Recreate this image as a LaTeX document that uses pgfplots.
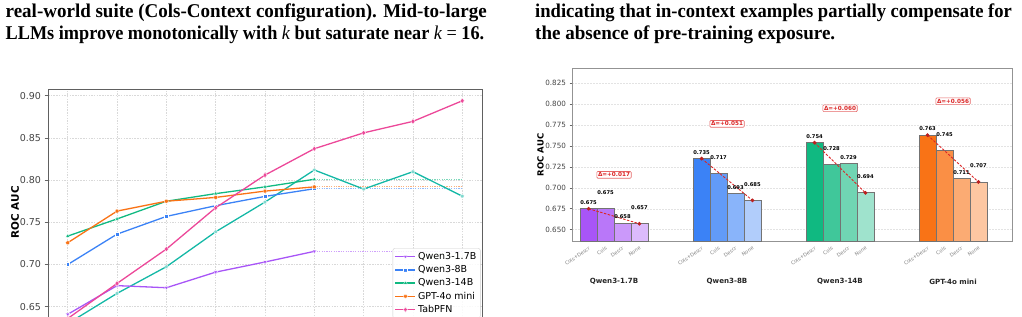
\documentclass[border=0pt]{standalone}
\usepackage{pgfplots}
\pgfplotsset{compat=1.18}
\usepackage{fontspec}
\usepackage{graphicx}
\setmainfont{Liberation Serif}
\newfontfamily\dv{DejaVu Sans}
\definecolor{cpur}{HTML}{A855F7}
\definecolor{cblu}{HTML}{3B82F6}
\definecolor{cgrn}{HTML}{10B981}
\definecolor{corg}{HTML}{F97316}
\definecolor{cpnk}{HTML}{EC4899}
\definecolor{ctel}{HTML}{14B8A6}
\definecolor{cred}{HTML}{DC2626}
\definecolor{tickc}{HTML}{444444}
\newcommand\capline[2]{\resizebox{#1}{\height}{\fontsize{19.5}{22}\selectfont\bfseries #2}}
\newcommand\kk{{\mdseries\itshape k}}
\tikzset{
  vlab/.style={font=\dv\bfseries\fontsize{5.2}{6}\selectfont, inner sep=0pt},
  dlab/.style={draw=cred!70, fill=white, rounded corners=1pt, inner sep=1.2pt, line width=0.6pt, text=cred, font=\dv\bfseries\fontsize{5.7}{6.5}\selectfont},
  glab/.style={font=\dv\bfseries\fontsize{7.1}{8}\selectfont, text=black!85},
}
\begin{document}
\begin{tikzpicture}
\useasboundingbox (0pt,0pt) rectangle (1022pt,-316pt);
\clip (0pt,0pt) rectangle (1022pt,-316pt);
% captions
\node[anchor=base west, inner sep=0] at (5.5pt,-17.3pt) {\capline{481pt}{real-world suite (Cols-Context configuration). Mid-to-large}};
\node[anchor=base west, inner sep=0] at (5.5pt,-39.6pt) {\capline{478.5pt}{LLMs improve monotonically with \kk{} but saturate near \kk{} {\mdseries=} 16.}};
\node[anchor=base west, inner sep=0] at (535pt,-17.3pt) {\capline{476.7pt}{indicating that in-context examples partially compensate for}};
\node[anchor=base west, inner sep=0] at (535pt,-39.4pt) {\capline{300pt}{the absence of pre-training exposure.}};

% ---------------- left chart ----------------
\begin{axis}[
  at={(48pt,-89.3pt)}, anchor=north west,
  scale only axis, width=434pt, height=245.7pt,
  xmin=-0.4, xmax=8.4, ymin=0.6165, ymax=0.9076,
  xtick={0,1,2,3,4,5,6,7,8}, xticklabels={},
  ytick={0.65,0.70,0.75,0.80,0.85,0.90},
  /pgf/number format/assume math mode=true,
  yticklabel style={font=\dv\fontsize{9.5}{11}\selectfont, text=tickc,
    /pgf/number format/fixed, /pgf/number format/fixed zerofill, /pgf/number format/precision=2},
  tick align=outside, ytick pos=left, xtick pos=bottom,
  major tick length=3.5pt, tick style={gray!80!black, line width=0.6pt},
  grid=major, major grid style={gray!30, dash pattern=on 1.5pt off 1.2pt, line width=0.5pt},
  axis line style={gray!75!black, line width=0.9pt},
  ylabel={ROC AUC}, ylabel style={font=\dv\bfseries\fontsize{10.4}{12}\selectfont, at={(axis description cs:-0.076,0.5)}, anchor=center},
  clip mode=individual,
  every axis plot/.append style={line width=1.3pt},
  legend image code/.code={\draw[mark repeat=2,mark phase=2] plot coordinates {(0pt,0pt)(10pt,0pt)(20pt,0pt)};},
  legend style={at={(axis description cs:0.794,0.353)}, anchor=north west,
    font=\dv\fontsize{9.5}{11}\selectfont, draw=gray!40, rounded corners=2pt,
    fill=white, fill opacity=0.85, text opacity=1, row sep=0.6pt, inner sep=2pt},
  legend cell align=left,
]
% dotted extensions
\addplot[cpur!55, dash pattern=on 1.2pt off 1.2pt, line width=1.1pt, forget plot] coordinates {(5,0.7156)(8,0.7156)};
\addplot[cblu!55, dash pattern=on 1.2pt off 1.2pt, line width=1.1pt, forget plot] coordinates {(5,0.7898)(8,0.7898)};
\addplot[cgrn!55, dash pattern=on 1.2pt off 1.2pt, line width=1.1pt, forget plot] coordinates {(5,0.801)(8,0.801)};
\addplot[corg!55, dash pattern=on 1.2pt off 1.2pt, line width=1.1pt, forget plot] coordinates {(5,0.792)(8,0.792)};
% teal series (legend entry below the cut)
\addplot[ctel, mark=pentagon*, mark size=2pt, mark options={fill=ctel!55, draw=white, line width=0.3pt}, forget plot]
  coordinates {(0,0.630)(1,0.6658)(2,0.6974)(3,0.7388)(4,0.774)(5,0.812)(6,0.7894)(7,0.810)(8,0.781)};
\addplot[cpur, mark=triangle*, mark size=2.3pt, mark options={rotate=180, fill=cpur, draw=white, line width=0.3pt}]
  coordinates {(0,0.641)(1,0.675)(2,0.6725)(3,0.691)(4,0.703)(5,0.7156)};
\addlegendentry{Qwen3-1.7B}
\addplot[cblu, mark=square*, mark size=1.9pt, mark options={fill=cblu, draw=white, line width=0.3pt}]
  coordinates {(0,0.700)(1,0.736)(2,0.757)(3,0.7697)(4,0.7807)(5,0.7898)};
\addlegendentry{Qwen3-8B}
\addplot[cgrn, mark=triangle*, mark size=2.3pt, mark options={fill=cgrn, draw=white, line width=0.3pt}]
  coordinates {(0,0.7337)(1,0.754)(2,0.775)(3,0.784)(4,0.792)(5,0.801)};
\addlegendentry{Qwen3-14B}
\addplot[corg, mark=*, mark size=2pt, mark options={fill=corg, draw=white, line width=0.3pt}]
  coordinates {(0,0.7258)(1,0.7633)(2,0.775)(3,0.7795)(4,0.787)(5,0.792)};
\addlegendentry{GPT-4o mini}
\addplot[cpnk, mark=diamond*, mark size=2.7pt, mark options={fill=cpnk, draw=white, line width=0.3pt}]
  coordinates {(0,0.636)(1,0.6776)(2,0.7183)(3,0.7673)(4,0.806)(5,0.8372)(6,0.856)(7,0.8696)(8,0.894)};
\addlegendentry{TabPFN}
\end{axis}

% ---------------- right chart ----------------
\begin{axis}[
  at={(572pt,-68.3pt)}, anchor=north west,
  scale only axis, width=440pt, height=173pt,
  xmin=-0.3717, xmax=3.522, ymin=0.636, ymax=0.843,
  xtick={-0.225,-0.075,0.075,0.225, 0.775,0.925,1.075,1.225, 1.775,1.925,2.075,2.225, 2.775,2.925,3.075,3.225},
  xticklabels={Cols+Descr,Cols,Descr,None,Cols+Descr,Cols,Descr,None,Cols+Descr,Cols,Descr,None,Cols+Descr,Cols,Descr,None},
  xticklabel style={font=\dv\fontsize{5}{6}\selectfont, text=gray, rotate=35, anchor=north east, inner sep=1.5pt},
  xtick style={draw=none},
  ytick={0.650,0.675,0.700,0.725,0.750,0.775,0.800,0.825},
  /pgf/number format/assume math mode=true,
  yticklabel style={font=\dv\fontsize{7.2}{8}\selectfont, text=tickc,
    /pgf/number format/fixed, /pgf/number format/fixed zerofill, /pgf/number format/precision=3},
  tick align=outside, ytick pos=left,
  major tick length=2.5pt, ytick style={gray!80!black, line width=0.5pt},
  ymajorgrids, major grid style={gray!22, dash pattern=on 2pt off 1pt, line width=0.4pt},
  axis line style={gray!85, line width=0.8pt},
  ylabel={ROC AUC}, ylabel style={font=\dv\bfseries\fontsize{8.5}{10}\selectfont, at={(axis description cs:-0.0716,0.5)}, anchor=center},
  clip mode=individual,
  bar width=17pt,
  every axis plot/.append style={draw=black!55, line width=0.7pt},
]
% Qwen3-1.7B
\addplot[ybar, fill=cpur] coordinates {(-0.225,0.675)};
\addplot[ybar, fill=cpur!80!white] coordinates {(-0.075,0.675)};
\addplot[ybar, fill=cpur!60!white] coordinates {(0.075,0.658)};
\addplot[ybar, fill=cpur!40!white] coordinates {(0.225,0.657)};
% Qwen3-8B
\addplot[ybar, fill=cblu] coordinates {(0.775,0.735)};
\addplot[ybar, fill=cblu!80!white] coordinates {(0.925,0.717)};
\addplot[ybar, fill=cblu!60!white] coordinates {(1.075,0.693)};
\addplot[ybar, fill=cblu!40!white] coordinates {(1.225,0.685)};
% Qwen3-14B
\addplot[ybar, fill=cgrn] coordinates {(1.775,0.754)};
\addplot[ybar, fill=cgrn!80!white] coordinates {(1.925,0.728)};
\addplot[ybar, fill=cgrn!60!white] coordinates {(2.075,0.729)};
\addplot[ybar, fill=cgrn!40!white] coordinates {(2.225,0.694)};
% GPT-4o mini
\addplot[ybar, fill=corg] coordinates {(2.775,0.763)};
\addplot[ybar, fill=corg!80!white] coordinates {(2.925,0.745)};
\addplot[ybar, fill=corg!60!white] coordinates {(3.075,0.711)};
\addplot[ybar, fill=corg!40!white] coordinates {(3.225,0.707)};
% delta lines
\addplot[draw=cred, dash pattern=on 2.5pt off 1.5pt, line width=0.9pt, mark=*, mark size=1.4pt, mark options={solid, fill=cred!85!black, draw=cred!85!black}] coordinates {(-0.225,0.675)(0.225,0.657)};
\addplot[draw=cred, dash pattern=on 2.5pt off 1.5pt, line width=0.9pt, mark=*, mark size=1.4pt, mark options={solid, fill=cred!85!black, draw=cred!85!black}] coordinates {(0.775,0.735)(1.225,0.685)};
\addplot[draw=cred, dash pattern=on 2.5pt off 1.5pt, line width=0.9pt, mark=*, mark size=1.4pt, mark options={solid, fill=cred!85!black, draw=cred!85!black}] coordinates {(1.775,0.754)(2.225,0.694)};
\addplot[draw=cred, dash pattern=on 2.5pt off 1.5pt, line width=0.9pt, mark=*, mark size=1.4pt, mark options={solid, fill=cred!85!black, draw=cred!85!black}] coordinates {(2.775,0.763)(3.225,0.707)};
% value labels
\node[vlab] at (axis cs:-0.225,0.6825) {0.675};
\node[vlab] at (axis cs:-0.075,0.694) {0.675};
\node[vlab] at (axis cs:0.075,0.6655) {0.658};
\node[vlab] at (axis cs:0.225,0.6765) {0.657};
\node[vlab] at (axis cs:0.775,0.7425) {0.735};
\node[vlab] at (axis cs:0.925,0.736) {0.717};
\node[vlab] at (axis cs:1.075,0.7005) {0.693};
\node[vlab] at (axis cs:1.225,0.704) {0.685};
\node[vlab] at (axis cs:1.775,0.7615) {0.754};
\node[vlab] at (axis cs:1.925,0.747) {0.728};
\node[vlab] at (axis cs:2.075,0.7365) {0.729};
\node[vlab] at (axis cs:2.225,0.7135) {0.694};
\node[vlab] at (axis cs:2.775,0.7705) {0.763};
\node[vlab] at (axis cs:2.925,0.764) {0.745};
\node[vlab] at (axis cs:3.075,0.7185) {0.711};
\node[vlab] at (axis cs:3.225,0.7265) {0.707};
% delta labels
\node[dlab] at (axis cs:0,0.7155) {Δ=+0.017};
\node[dlab] at (axis cs:1,0.7765) {Δ=+0.051};
\node[dlab] at (axis cs:2,0.7952) {Δ=+0.060};
\node[dlab] at (axis cs:3,0.8036) {Δ=+0.056};
% group labels
\node[glab] at (axis cs:0,0.636) [yshift=-40.4pt] {Qwen3-1.7B};
\node[glab] at (axis cs:1,0.636) [yshift=-40.4pt] {Qwen3-8B};
\node[glab] at (axis cs:2,0.636) [yshift=-40.4pt] {Qwen3-14B};
\node[glab] at (axis cs:3,0.636) [yshift=-40.4pt] {GPT-4o mini};
\end{axis}
\end{tikzpicture}
\end{document}
